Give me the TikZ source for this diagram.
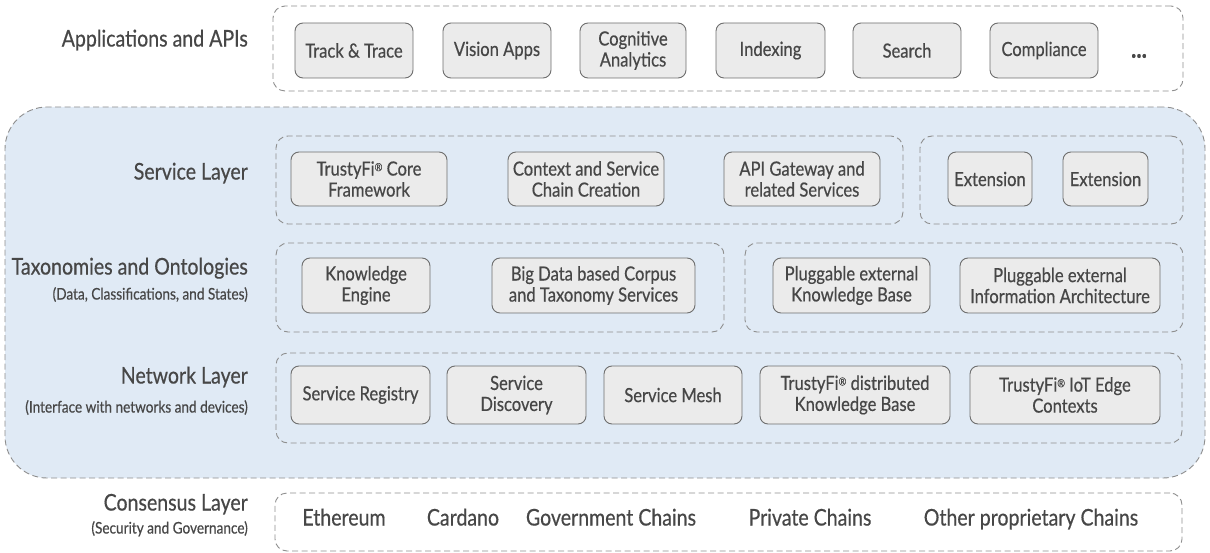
\documentclass[tikz,border=0pt]{standalone}
\usepackage{fontspec}
\setmainfont[FakeStretch=0.85, FakeBold=0.5]{Lato}
\definecolor{txt}{HTML}{474747}
\definecolor{boxfill}{HTML}{EBEBEB}
\definecolor{boxline}{HTML}{6E6E6E}
\definecolor{dashc}{HTML}{8E8E8E}
\definecolor{bluefill}{HTML}{E0EAF5}
\newcommand{\rg}{\raisebox{0.45ex}{\fontsize{11}{11}\selectfont ®}}
\begin{document}
\begin{tikzpicture}[x=1pt,y=-1pt,
  ibox/.style={draw=boxline, fill=boxfill, rounded corners=8pt, line width=0.9pt, align=center, inner sep=0pt, text=txt, font=\fontsize{19.5}{21}\selectfont},
  grp/.style={draw=dashc, dash pattern=on 6pt off 3.5pt, rounded corners=12pt, line width=0.9pt, inner sep=0pt},
  lbl/.style={anchor=mid east, inner sep=0pt, text=txt, font=\fontsize{23}{25}\selectfont},
  sub/.style={anchor=mid east, inner sep=0pt, text=txt, font=\fontsize{16}{18}\selectfont},
  chain/.style={anchor=mid, inner sep=0pt, text=txt, font=\fontsize{23}{25}\selectfont}]
\useasboundingbox (0,0) rectangle (1210,553);
% big blue area
\node[grp, fill=bluefill, rounded corners=42pt, minimum width=1200pt, minimum height=371pt] (blue) at (605,292.5) {};
% groups
\node[grp, minimum width=910pt, minimum height=85pt] (gapps) at (728,48.5) {};
\node[grp, minimum width=627pt, minimum height=88pt] (gsvc1) at (589.5,180) {};
\node[grp, minimum width=263pt, minimum height=88pt] (gsvc2) at (1051.5,180) {};
\node[grp, minimum width=448pt, minimum height=89pt] (gtax1) at (500,287.5) {};
\node[grp, minimum width=438pt, minimum height=89pt] (gtax2) at (964,287.5) {};
\node[grp, minimum width=906pt, minimum height=90pt] (gnet) at (729,398) {};
\node[grp, minimum width=907pt, minimum height=58pt] (gcons) at (728.5,522) {};
% labels
\node[lbl] (lapps) at (248,44) {Applications and APIs};
\node[lbl] (lsvc) at (248,177) {Service Layer};
\node[lbl] (ltax) at (248,272) {Taxonomies and Ontologies};
\node[sub] (ltaxs) at (248,297) {(Data, Classifications, and States)};
\node[lbl] (lnet) at (248,381) {Network Layer};
\node[sub] (lnets) at (248,410) {(Interface with networks and devices)};
\node[lbl] (lcons) at (248,508) {Consensus Layer};
\node[sub] (lconss) at (248,531) {(Security and Governance)};
% apps
\node[ibox, minimum width=118pt, minimum height=55pt] (tt) at (354,50.5) {Track \& Trace};
\node[ibox, minimum width=108pt, minimum height=55pt] (va) at (497,50.5) {Vision Apps};
\node[ibox, minimum width=106pt, minimum height=55pt] (ca) at (633,50.5) {Cognitive\\Analytics};
\node[ibox, minimum width=109pt, minimum height=55pt] (ix) at (770.5,50.5) {Indexing};
\node[ibox, minimum width=108pt, minimum height=55pt] (se) at (907,50.5) {Search};
\node[ibox, minimum width=108pt, minimum height=55pt] (co) at (1044,50.5) {Compliance};
\node[inner sep=0pt, text=txt, font=\fontsize{26}{26}\selectfont\bfseries] (dots) at (1139,56) {...};
% service
\node[ibox, minimum width=156pt, minimum height=54pt] (cf) at (369,179) {TrustyFi\rg{} Core\\Framework};
\node[ibox, minimum width=156pt, minimum height=54pt] (cs) at (586,179) {Context and Service\\Chain Creation};
\node[ibox, minimum width=156pt, minimum height=54pt] (ag) at (802,179) {API Gateway and\\related Services};
\node[ibox, minimum width=84pt, minimum height=54pt] (e1) at (990,179) {Extension};
\node[ibox, minimum width=85pt, minimum height=54pt] (e2) at (1105.5,179) {Extension};
% taxonomies
\node[ibox, minimum width=128pt, minimum height=55pt] (ke) at (366,285.5) {Knowledge\\Engine};
\node[ibox, minimum width=203pt, minimum height=55pt] (bd) at (593.5,285.5) {Big Data based Corpus\\and Taxonomy Services};
\node[ibox, minimum width=157pt, minimum height=55pt] (pk) at (851.5,285.5) {Pluggable external\\Knowledge Base};
\node[ibox, minimum width=200pt, minimum height=55pt] (pi) at (1060,285.5) {Pluggable external\\Information Architecture};
% network
\node[ibox, minimum width=139pt, minimum height=58pt] (sr) at (360.5,395) {Service Registry};
\node[ibox, minimum width=139pt, minimum height=58pt] (sd) at (516.5,395) {Service\\Discovery};
\node[ibox, minimum width=138pt, minimum height=58pt] (sm) at (673,395) {Service Mesh};
\node[ibox, minimum width=190pt, minimum height=58pt] (td) at (855,395) {TrustyFi\rg{} distributed\\Knowledge Base};
\node[ibox, minimum width=190pt, minimum height=58pt] (ti) at (1065,395) {TrustyFi\rg{} IoT Edge\\Contexts};
% consensus
\node[chain] (eth) at (344,523) {Ethereum};
\node[chain] (car) at (463,523) {Cardano};
\node[chain] (gov) at (611,523) {Government Chains};
\node[chain] (pri) at (810,523) {Private Chains};
\node[chain] (oth) at (1031,523) {Other proprietary Chains};
\end{tikzpicture}
\end{document}
